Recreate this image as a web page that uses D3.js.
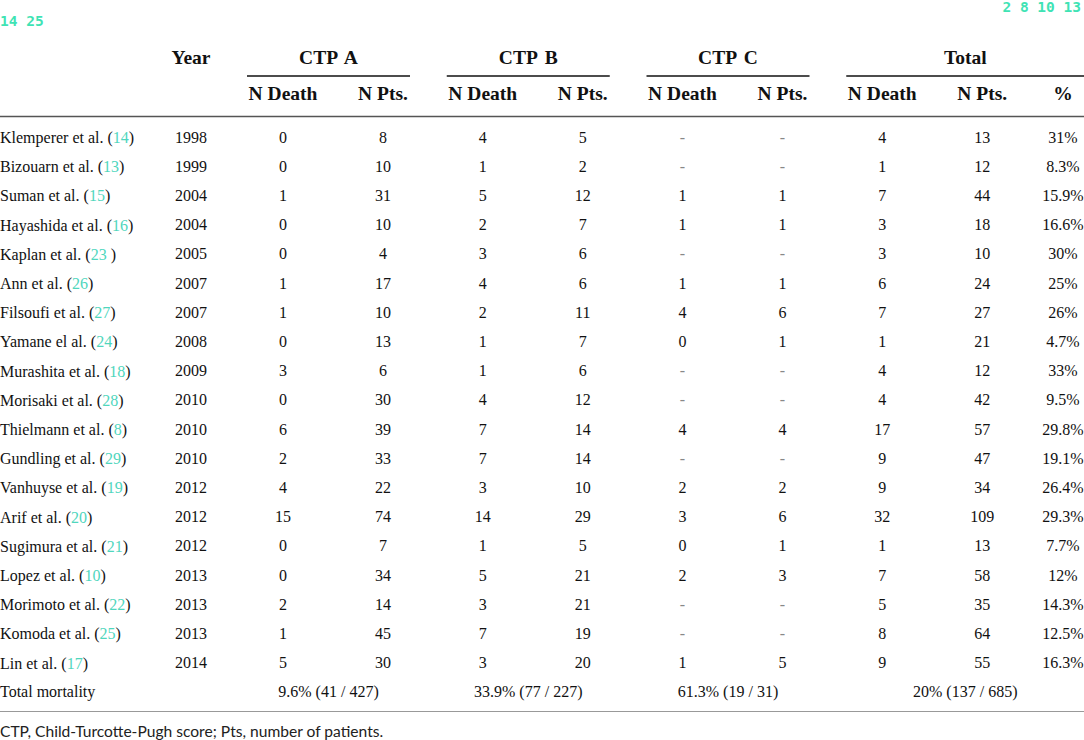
<!DOCTYPE html>
<html>
<head>
  <meta charset="utf-8">
  <title>Mortality by CTP class</title>
  <style>
    body { margin: 0; background: #fff; }
    svg { display: block; }
    .cell { font-family: 'Liberation Serif', 'Times New Roman', serif; font-size: 16px; fill: #111; }
    .head { font-family: 'Liberation Serif', 'Times New Roman', serif; font-size: 19.5px; font-weight: bold; fill: #111; }
    .cite { fill: #4fd6bd; }
    .tag { font-family: 'DejaVu Sans Mono', monospace; font-size: 14.5px; font-weight: bold; fill: #3fe3b4; }
    .note { font-family: Lato, 'Open Sans', sans-serif; font-size: 15.6px; fill: #222; }
  </style>
</head>
<body>
  <div id="chart"></div>
  <script src="https://d3js.org/d3.v7.min.js"></script>
  <script>
    // Table data
    const studies = ["Klemperer et al.", "Bizouarn et al.", "Suman et al.", "Hayashida et al.", "Kaplan et al.",
      "Ann et al.", "Filsoufi et al.", "Yamane el al.", "Murashita et al.", "Morisaki et al.", "Thielmann et al.",
      "Gundling et al.", "Vanhuyse et al.", "Arif et al.", "Sugimura et al.", "Lopez et al.", "Morimoto et al.",
      "Komoda et al.", "Lin et al."];
    const refs = ["14", "13", "15", "16", "23 ", "26", "27", "24", "18", "28", "8", "29", "19", "20", "21", "10", "22", "25", "17"];
    const years = [1998, 1999, 2004, 2004, 2005, 2007, 2007, 2008, 2009, 2010, 2010, 2010, 2012, 2012, 2012, 2013, 2013, 2013, 2014];
    const aDeath = [0, 0, 1, 0, 0, 1, 1, 0, 3, 0, 6, 2, 4, 15, 0, 0, 2, 1, 5];
    const aPts = [8, 10, 31, 10, 4, 17, 10, 13, 6, 30, 39, 33, 22, 74, 7, 34, 14, 45, 30];
    const bDeath = [4, 1, 5, 2, 3, 4, 2, 1, 1, 4, 7, 7, 3, 14, 1, 5, 3, 7, 3];
    const bPts = [5, 2, 12, 7, 6, 6, 11, 7, 6, 12, 14, 14, 10, 29, 5, 21, 21, 19, 20];
    const cDeath = [null, null, 1, 1, null, 1, 4, 0, null, null, 4, null, 2, 3, 0, 2, null, null, 1];
    const cPts = [null, null, 1, 1, null, 1, 6, 1, null, null, 4, null, 2, 6, 1, 3, null, null, 5];
    const totDeath = [4, 1, 7, 3, 3, 6, 7, 1, 4, 4, 17, 9, 9, 32, 1, 7, 5, 8, 9];
    const totPts = [13, 12, 44, 18, 10, 24, 27, 21, 12, 42, 57, 47, 34, 109, 13, 58, 35, 64, 55];
    const totPct = ["31%", "8.3%", "15.9%", "16.6%", "30%", "25%", "26%", "4.7%", "33%", "9.5%", "29.8%",
      "19.1%", "26.4%", "29.3%", "7.7%", "12%", "14.3%", "12.5%", "16.3%"];

    const groups = ["CTP A", "CTP B", "CTP C", "Total"];
    const subHeads = ["N Death", "N Pts."];
    const totalRow = ["9.6% (41 / 427)", "33.9% (77 / 227)", "61.3% (19 / 31)", "20% (137 / 685)"];
    const topTagsLeft = "14 25";
    const topTagsRight = "2 8 10 13";
    const footnote = "CTP, Child-Turcotte-Pugh score; Pts, number of patients.";

    const width = 1084, height = 740;

    const svg = d3.select("#chart")
      .append("svg")
      .attr("width", width)
      .attr("height", height);

    // Scales
    const y = d3.scaleLinear().domain([0, studies.length]).range([137, 137 + 29.2 * studies.length]);
    const groupX = d3.scaleBand().domain(groups).range([247, 1046]).paddingInner(0);
    const groupWidth = [163, 163, 163, 238];
    const colOff = { death: 36, pts: 136 };

    // Tags at top
    svg.append("text").attr("class", "tag").attr("x", 0).attr("y", 21)
      .attr("dominant-baseline", "central").text(topTagsLeft);
    svg.append("text").attr("class", "tag").attr("x", 1081).attr("y", 7)
      .attr("dominant-baseline", "central").attr("text-anchor", "end").text(topTagsRight);

    // Header
    svg.append("text").attr("class", "head").attr("x", 191).attr("y", 57)
      .attr("dominant-baseline", "central").attr("text-anchor", "middle").text("Year");

    groups.forEach((g, i) => {
      const x0 = groupX(g);
      const w = groupWidth[i];
      svg.append("text").attr("class", "head").attr("x", x0 + w / 2).attr("y", 57)
        .attr("dominant-baseline", "central").attr("text-anchor", "middle")
        .style("word-spacing", "3px").text(g);
      svg.append("line").attr("x1", x0).attr("x2", x0 + w).attr("y1", 76).attr("y2", 76)
        .attr("stroke", "#111").attr("stroke-width", 1.5);
      svg.append("text").attr("class", "head").attr("x", x0 + colOff.death).attr("y", 93)
        .attr("dominant-baseline", "central").attr("text-anchor", "middle").text(subHeads[0]);
      svg.append("text").attr("class", "head").attr("x", x0 + colOff.pts).attr("y", 93)
        .attr("dominant-baseline", "central").attr("text-anchor", "middle").text(subHeads[1]);
    });
    svg.append("text").attr("class", "head").attr("x", 1063).attr("y", 93)
      .attr("dominant-baseline", "central").attr("text-anchor", "middle").text("%");

    svg.append("line").attr("x1", 0).attr("x2", width).attr("y1", 116.5).attr("y2", 116.5)
      .attr("stroke", "#555").attr("stroke-width", 1.3);

    // Body rows
    const rows = svg.selectAll("g.row")
      .data(studies.map((s, i) => i))
      .join("g")
      .attr("class", "row")
      .attr("transform", i => `translate(0, ${y(i)})`);

    const label = rows.append("text").attr("class", "cell").attr("x", 0)
      .attr("dominant-baseline", "central");
    label.append("tspan").text(i => studies[i] + " (");
    label.append("tspan").attr("class", "cite").text(i => refs[i]);
    label.append("tspan").text(")");

    rows.append("text").attr("class", "cell").attr("x", 191)
      .attr("dominant-baseline", "central").attr("text-anchor", "middle").text(i => years[i]);

    const cols = [
      [groupX("CTP A") + colOff.death, aDeath],
      [groupX("CTP A") + colOff.pts, aPts],
      [groupX("CTP B") + colOff.death, bDeath],
      [groupX("CTP B") + colOff.pts, bPts],
      [groupX("CTP C") + colOff.death, cDeath],
      [groupX("CTP C") + colOff.pts, cPts],
      [groupX("Total") + colOff.death, totDeath],
      [groupX("Total") + colOff.pts, totPts],
      [1063, totPct]
    ];
    cols.forEach(([cx, vals]) => {
      rows.append("text").attr("class", "cell").attr("x", cx)
        .attr("dominant-baseline", "central").attr("text-anchor", "middle")
        .style("fill", i => vals[i] === null ? "#888" : null)
        .text(i => vals[i] === null ? "-" : vals[i]);
    });

    // Total mortality row
    const yt = y(studies.length);
    svg.append("text").attr("class", "cell").attr("x", 0).attr("y", yt)
      .attr("dominant-baseline", "central").text("Total mortality");
    groups.forEach((g, i) => {
      svg.append("text").attr("class", "cell").attr("x", groupX(g) + groupWidth[i] / 2).attr("y", yt)
        .attr("dominant-baseline", "central").attr("text-anchor", "middle").text(totalRow[i]);
    });

    svg.append("line").attr("x1", 0).attr("x2", width).attr("y1", 711.5).attr("y2", 711.5)
      .attr("stroke", "#999").attr("stroke-width", 1.2);

    svg.append("text").attr("class", "note").attr("x", 0).attr("y", 731)
      .attr("dominant-baseline", "central").text(footnote);
  </script>
</body>
</html>
